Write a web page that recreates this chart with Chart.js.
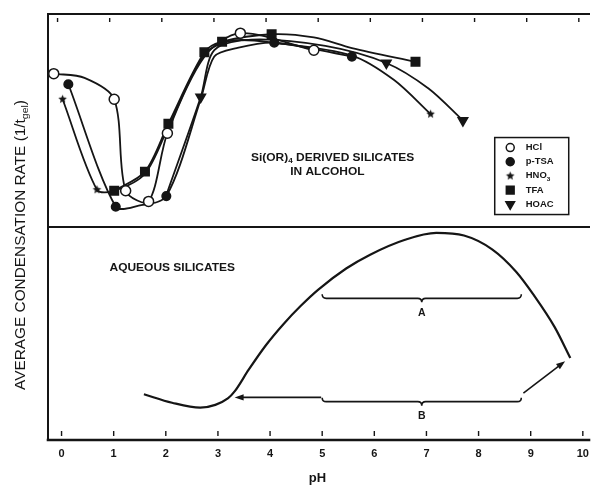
<!DOCTYPE html>
<html>
<head>
<meta charset="utf-8">
<script src="https://cdn.jsdelivr.net/npm/chart.js@4.4.0/dist/chart.umd.min.js"></script>
<style>
  html, body { margin: 0; padding: 0; background: #fff; overflow: hidden; }
  #wrap { width: 596px; height: 487px; }
</style>
</head>
<body>
<div id="wrap"><canvas id="rateChart" width="596" height="487"></canvas></div>
<script>
"use strict";

const INK = '#151515';
const FONT = '"Liberation Sans", Arial, Helvetica, sans-serif';

// --- x axis ---
const phTicks = [0, 1, 2, 3, 4, 5, 6, 7, 8, 9, 10];

// --- top panel: Si(OR)4 derived silicates in alcohol (rate in panel units, 0..1) ---
const seriesNames = ['HCl', 'p-TSA', 'HNO3', 'TFA', 'HOAC'];

const hclPh    = [-0.15, 0.44, 1.01, 1.23, 1.67, 2.03, 2.74, 3.43, 4.84];
const hclRate  = [0.72, 0.70, 0.60, 0.17, 0.12, 0.44, 0.80, 0.91, 0.83];
const hclMark  = [1, 0, 1, 1, 1, 1, 0, 1, 1];

const ptsaPh   = [0.13, 1.04, 1.48, 2.01, 2.67, 2.93, 3.36, 4.08, 5.57];
const ptsaRate = [0.67, 0.095, 0.10, 0.145, 0.60, 0.80, 0.84, 0.865, 0.80];
const ptsaMark = [1, 1, 0, 1, 0, 0, 0, 1, 1];

const hno3Ph   = [0.02, 0.68, 1.01, 1.60, 2.05, 2.74, 3.27, 4.08, 5.57, 6.38, 7.08];
const hno3Rate = [0.60, 0.175, 0.17, 0.25, 0.47, 0.81, 0.875, 0.865, 0.805, 0.69, 0.53];
const hno3Mark = [1, 1, 0, 0, 0, 0, 0, 0, 0, 0, 1];

const tfaPh    = [1.01, 1.60, 2.05, 2.74, 3.08, 4.03, 4.84, 5.57, 6.79];
const tfaRate  = [0.17, 0.26, 0.485, 0.82, 0.87, 0.905, 0.89, 0.84, 0.776];
const tfaMark  = [1, 1, 1, 1, 1, 1, 0, 0, 1];

const hoacPh   = [2.01, 2.67, 2.93, 3.65, 5.06, 6.23, 7.04, 7.70];
const hoacRate = [0.15, 0.61, 0.83, 0.88, 0.85, 0.77, 0.65, 0.50];
const hoacMark = [0, 1, 0, 0, 0, 1, 0, 1];

// --- bottom panel: aqueous silicates ---
const aqPh   = [1.58, 2.12, 2.66, 2.95, 3.19, 3.32, 3.59, 3.92, 4.26, 4.59, 4.92, 5.46, 5.92, 6.59, 7.19, 7.72, 8.26, 8.72, 9.06, 9.46, 9.76];
const aqRate = [0.215, 0.175, 0.152, 0.165, 0.195, 0.228, 0.33, 0.445, 0.545, 0.63, 0.705, 0.805, 0.87, 0.94, 0.972, 0.96, 0.895, 0.79, 0.68, 0.53, 0.385];

// annotations of the bottom panel (pH, panel units)
const braces = [
  { label: 'A', from: 5.0, to: 8.82, at: 0.665, labelAt: 0.594 },
  { label: 'B', from: 5.0, to: 8.82, at: 0.18, labelAt: 0.11 }
];
const arrows = [
  { x0: 4.98, y0: 0.20, x1: 3.32, y1: 0.20 },
  { x0: 8.86, y0: 0.22, x1: 9.66, y1: 0.37 }
];

function zip(xs, ys) {
  return xs.map((x, i) => ({ x: x, y: ys[i] }));
}

function starImage(r) {
  const c = document.createElement('canvas');
  const s = Math.ceil(r * 2 + 2);
  c.width = c.height = s;
  const g = c.getContext('2d');
  g.fillStyle = INK;
  g.beginPath();
  for (let i = 0; i < 10; i++) {
    const a = -Math.PI / 2 + i * Math.PI / 5;
    const rr = i % 2 ? r * 0.45 : r;
    g.lineTo(s / 2 + rr * Math.cos(a), s / 2 + rr * Math.sin(a));
  }
  g.closePath();
  g.fill();
  return c;
}

// text with optional subscripts, slightly stretched like the original lettering
function drawRich(ctx, parts, x, y, size, weight, align, stretch, rotation) {
  ctx.save();
  ctx.translate(x, y);
  if (rotation) ctx.rotate(rotation);
  ctx.scale(stretch, 1);
  const subSize = size * 0.68;
  const widths = parts.map(([t, sub]) => {
    ctx.font = `${weight} ${sub ? subSize : size}px ${FONT}`;
    return ctx.measureText(t).width;
  });
  const total = widths.reduce((a, b) => a + b, 0);
  let cx = align === 'center' ? -total / 2 : (align === 'right' ? -total : 0);
  ctx.textBaseline = 'middle';
  ctx.textAlign = 'left';
  ctx.fillStyle = INK;
  parts.forEach(([t, sub], i) => {
    ctx.font = `${weight} ${sub ? subSize : size}px ${FONT}`;
    ctx.fillText(t, cx, sub ? size * 0.32 : 0);
    cx += widths[i];
  });
  ctx.restore();
}

function nameParts(name) {
  const m = name.match(/^(.*?)(\d+)$/);
  return m ? [[m[1], false], [m[2], true]] : [[name, false]];
}

const datasetBase = {
  borderColor: INK,
  borderWidth: 1.8,
  pointBorderColor: INK,
  pointBorderWidth: 1.5,
  tension: 0.3,
  fill: false
};

const topSeries = [
  { label: seriesNames[0], data: zip(hclPh, hclRate), yAxisID: 'yTop',
    pointStyle: 'circle', pointBackgroundColor: '#fff', pointRadius: hclMark.map(m => m ? 5 : 0) },
  { label: seriesNames[1], data: zip(ptsaPh, ptsaRate), yAxisID: 'yTop',
    pointStyle: 'circle', pointBackgroundColor: INK, pointRadius: ptsaMark.map(m => m ? 4.3 : 0) },
  { label: seriesNames[2], data: zip(hno3Ph, hno3Rate), yAxisID: 'yTop',
    pointStyle: starImage(4.5), pointBackgroundColor: INK, pointRadius: hno3Mark.map(m => m ? 4 : 0) },
  { label: seriesNames[3], data: zip(tfaPh, tfaRate), yAxisID: 'yTop',
    pointStyle: 'rect', pointBackgroundColor: INK, pointRadius: tfaMark.map(m => m ? 6 : 0) },
  { label: seriesNames[4], data: zip(hoacPh, hoacRate), yAxisID: 'yTop',
    pointStyle: 'triangle', pointRotation: 180, pointBackgroundColor: INK, pointRadius: hoacMark.map(m => m ? 5.5 : 0) }
].map(d => Object.assign({}, datasetBase, d));

const aqueous = Object.assign({}, datasetBase, {
  label: 'Aqueous silicates', data: zip(aqPh, aqRate), yAxisID: 'yBot',
  borderWidth: 2.2, pointRadius: 0, cubicInterpolationMode: 'monotone'
});

const figurePlugin = {
  id: 'figure',
  beforeDatasetsDraw(chart) {
    const { ctx, chartArea: a, scales } = chart;
    const mid = scales.yBot.getPixelForValue(1);
    ctx.save();
    ctx.strokeStyle = INK;
    ctx.lineCap = 'square';
    ctx.lineWidth = 2;
    ctx.beginPath();
    ctx.moveTo(a.right + 2, a.top); ctx.lineTo(a.left, a.top); ctx.lineTo(a.left, a.bottom);
    ctx.moveTo(a.left, mid); ctx.lineTo(a.right + 2, mid);
    ctx.stroke();
    ctx.lineWidth = 2.6;
    ctx.beginPath();
    ctx.moveTo(a.left, a.bottom); ctx.lineTo(a.right + 2, a.bottom);
    ctx.stroke();
    // small inward tick marks, bottom axis and top border
    ctx.lineWidth = 1.4;
    ctx.lineCap = 'butt';
    ctx.beginPath();
    phTicks.forEach(v => {
      const x = scales.x.getPixelForValue(v);
      ctx.moveTo(x, a.bottom - 9); ctx.lineTo(x, a.bottom - 4);
      const xt = x - 4;
      ctx.moveTo(xt, a.top + 4); ctx.lineTo(xt, a.top + 8);
    });
    ctx.stroke();
    ctx.restore();
  },
  afterDraw(chart) {
    const { ctx, scales } = chart;
    const X = v => scales.x.getPixelForValue(v);
    const YT = v => scales.yTop.getPixelForValue(v);
    const YB = v => scales.yBot.getPixelForValue(v);

    // panel captions
    drawRich(ctx, [['Si(OR)', false], ['4', true], [' DERIVED SILICATES', false]],
      X(5.2), YT(0.325), 10.5, 'bold', 'center', 1.14);
    drawRich(ctx, [['IN ALCOHOL', false]], X(5.1), YT(0.258), 10.5, 'bold', 'center', 1.14);
    drawRich(ctx, [['AQUEOUS SILICATES', false]], X(0.92), YB(0.805), 10.5, 'bold', 'left', 1.14);

    // y axis title
    drawRich(ctx, [['AVERAGE CONDENSATION RATE (1/t', false], ['gel', true], [')', false]],
      21, 245, 14.5, 'normal', 'center', 1.06, -Math.PI / 2);

    ctx.save();
    ctx.strokeStyle = INK;
    ctx.fillStyle = INK;
    ctx.lineWidth = 1.6;

    // braces
    braces.forEach(b => {
      const x1 = X(b.from), x2 = X(b.to), xm = (x1 + x2) / 2, y = YB(b.at), h = 4;
      ctx.beginPath();
      ctx.moveTo(x1, y - h);
      ctx.quadraticCurveTo(x1, y, x1 + h, y);
      ctx.lineTo(xm - h, y);
      ctx.quadraticCurveTo(xm, y, xm, y + h);
      ctx.quadraticCurveTo(xm, y, xm + h, y);
      ctx.lineTo(x2 - h, y);
      ctx.quadraticCurveTo(x2, y, x2, y - h);
      ctx.stroke();
      drawRich(ctx, [[b.label, false]], X((b.from + b.to) / 2), YB(b.labelAt), 10, 'bold', 'center', 1.05);
    });

    // arrows
    arrows.forEach(ar => {
      const x0 = X(ar.x0), y0 = YB(ar.y0), x1 = X(ar.x1), y1 = YB(ar.y1);
      const ang = Math.atan2(y1 - y0, x1 - x0);
      const len = 9, half = 3.2;
      ctx.beginPath();
      ctx.moveTo(x0, y0);
      ctx.lineTo(x1 - Math.cos(ang) * len * 0.8, y1 - Math.sin(ang) * len * 0.8);
      ctx.stroke();
      ctx.beginPath();
      ctx.moveTo(x1, y1);
      ctx.lineTo(x1 - Math.cos(ang) * len - Math.sin(ang) * half, y1 - Math.sin(ang) * len + Math.cos(ang) * half);
      ctx.lineTo(x1 - Math.cos(ang) * len + Math.sin(ang) * half, y1 - Math.sin(ang) * len - Math.cos(ang) * half);
      ctx.closePath();
      ctx.fill();
    });

    // legend box
    const lx = X(8.31), ly = YT(0.42), lw = 74, lh = 77;
    ctx.lineWidth = 1.5;
    ctx.strokeRect(lx, ly, lw, lh);
    const legendSizes = [4, 4, 3.5, 5.5, 5];
    chart.data.datasets.forEach((ds, i) => {
      if (ds.yAxisID !== 'yTop') return;
      const ry = ly + 10 + i * 14.2;
      ctx.fillStyle = ds.pointBackgroundColor;
      ctx.strokeStyle = INK;
      Chart.helpers.drawPoint(ctx, {
        pointStyle: ds.pointStyle, rotation: ds.pointRotation || 0,
        radius: legendSizes[i], borderWidth: 1.4
      }, lx + 15.5, ry);
      drawRich(ctx, nameParts(ds.label), lx + 31, ry, 9, 'bold', 'left', 1.05);
    });
    ctx.restore();
  }
};

new Chart(document.getElementById('rateChart'), {
  type: 'line',
  data: { datasets: topSeries.concat([aqueous]) },
  options: {
    responsive: false,
    animation: false,
    layout: { padding: { left: 48, top: 14, right: 0, bottom: 0 } },
    plugins: {
      legend: { display: false },
      tooltip: { enabled: false }
    },
    scales: {
      x: {
        type: 'linear',
        min: -0.26,
        max: 10.08,
        afterBuildTicks: s => { s.ticks = phTicks.map(v => ({ value: v })); },
        afterFit: s => { s.height = 47; },
        grid: { display: false, drawTicks: false },
        border: { display: false },
        ticks: {
          color: INK, padding: 7, maxRotation: 0, autoSkip: false,
          font: { family: FONT, size: 11, weight: 'bold' },
          callback: v => String(v)
        },
        title: {
          display: true, text: 'pH', color: INK,
          font: { family: FONT, size: 13, weight: 'bold' },
          padding: { top: 0, bottom: 1 }
        }
      },
      yTop: { type: 'linear', display: false, min: -1, max: 1 },
      yBot: { type: 'linear', display: false, min: 0, max: 2 }
    }
  },
  plugins: [figurePlugin]
});
</script>
</body>
</html>
